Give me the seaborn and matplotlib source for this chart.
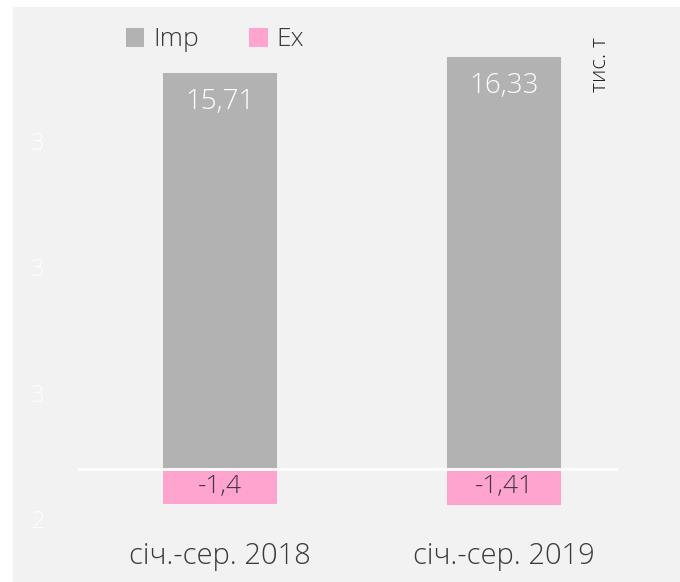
import matplotlib
matplotlib.use("Agg")
import matplotlib.pyplot as plt
import seaborn as sns
import pandas as pd
from matplotlib.patches import Rectangle, Patch

categories = ["січ.-сер. 2018", "січ.-сер. 2019"]
imp_values = [15.71, 16.33]
ex_values = [-1.4, -1.41]
imp_labels = ["15,71", "16,33"]
ex_labels = ["-1,4", "-1,41"]
ytick_values = [-2, 3, 8, 13]
ytick_labels = ["2", "3", "3", "3"]

sns.set_theme(style="white")
plt.rcParams['font.family'] = ['Open Sans', 'DejaVu Sans']
plt.rcParams['font.weight'] = 'light'

BG = "#f2f2f2"
GREY = "#b2b2b2"
PINK = "#ffa3cf"
TXT = "#3a3a3a"

fig = plt.figure(figsize=(6.8, 5.82), dpi=100)
fig.patch.set_facecolor("white")
fig.patches.append(Rectangle((13/680, 0), 1, (582-7)/582, transform=fig.transFigure,
                             facecolor=BG, edgecolor="none", zorder=-10))
ymin, ymax = -2.6, 17
top_px, bot_px = 469 - ymax*25.2, 469 - ymin*25.2
ax = fig.add_axes([78/680, 1-bot_px/582, 540/680, (bot_px-top_px)/582])
ax.patch.set_alpha(0)

df = pd.DataFrame({"cat": categories, "imp": imp_values, "ex": ex_values})
sns.barplot(data=df, x="cat", y="imp", color=GREY, saturation=1, width=0.40, ax=ax,
            zorder=2, linewidth=0)
sns.barplot(data=df, x="cat", y="ex", color=PINK, saturation=1, width=0.40, ax=ax,
            zorder=2, linewidth=0)

ax.axhline(0, color="white", lw=2, zorder=3)

for i, (v, lab) in enumerate(zip(imp_values, imp_labels)):
    ax.text(i, v - 1.15, lab, ha="center", va="center", color="white", fontsize=20, zorder=4)
for i, (v, lab) in enumerate(zip(ex_values, ex_labels)):
    ax.text(i, v / 2, lab, ha="center", va="center", color=TXT, fontsize=19, zorder=4)

ax.set_xlim(-0.5, 1.4)
ax.set_ylim(ymin, ymax)
ax.set_yticks(ytick_values)
ax.set_yticklabels(ytick_labels, color="white", fontsize=17)
ax.tick_params(axis="y", length=0, pad=24)
ax.tick_params(axis="x", length=0, pad=5, labelsize=21, labelcolor=TXT)
ax.set_xlabel("")
ax.set_ylabel("")
for s in ax.spines.values():
    s.set_visible(False)

fig.text(601/680, 1-65/582, "тис. т", rotation=90, ha="center", va="center",
         fontsize=16, color="#222222")

handles = [Patch(facecolor=GREY, edgecolor="none"), Patch(facecolor=PINK, edgecolor="none")]
fig.legend(handles, ["Imp", "Ex"], loc="center", bbox_to_anchor=(215/680, 1-40/582),
           ncol=2, frameon=False, fontsize=19, handlelength=0.7, handleheight=0.7,
           handletextpad=0.35, columnspacing=1.9, labelcolor=TXT)

fig.savefig("out.png", dpi=100, facecolor="white")
